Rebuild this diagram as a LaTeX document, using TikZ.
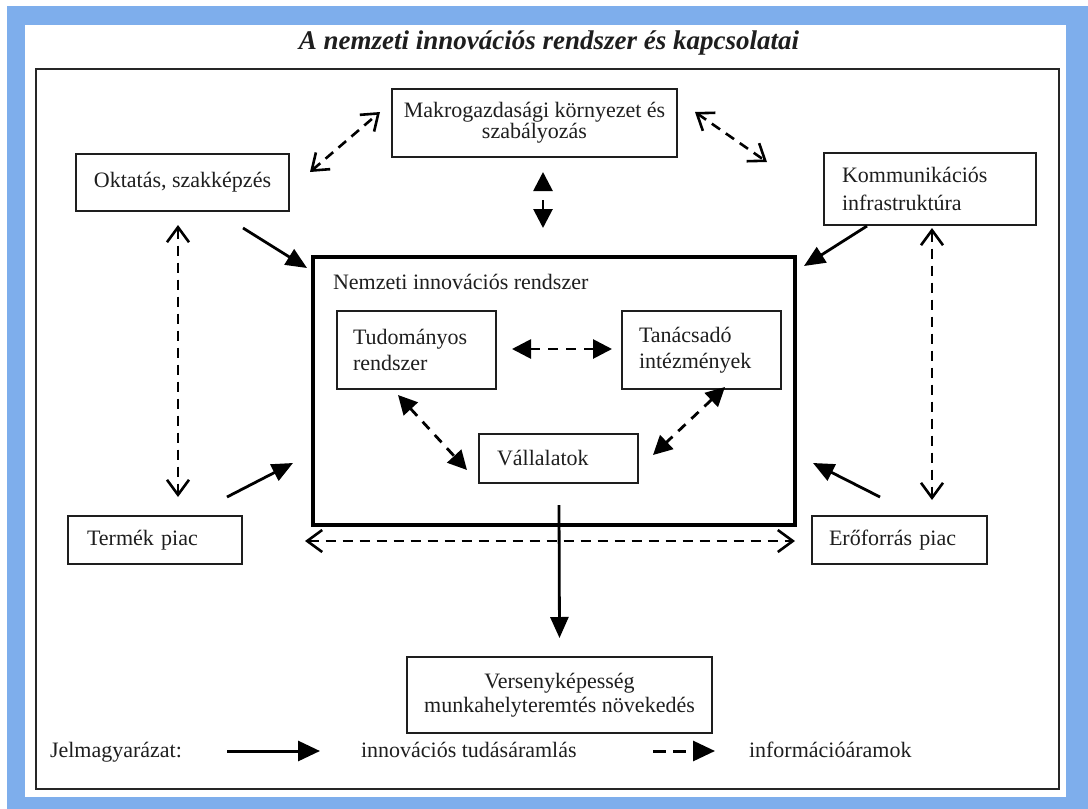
\documentclass[tikz,border=0pt]{standalone}
\usepackage{fontspec}
\setmainfont{Liberation Serif}
\usetikzlibrary{arrows.meta,calc}
\definecolor{band}{RGB}{126,174,236}
\definecolor{txt}{RGB}{30,30,30}
\begin{document}
\begin{tikzpicture}[x=1pt,y=-1pt,
  box/.style={draw=txt,line width=1.4pt,inner sep=0pt,outer sep=0pt,text=txt,font=\fontsize{22}{26}\selectfont},
  lbl/.style={inner sep=0pt,outer sep=0pt,text=txt,font=\fontsize{22}{26}\selectfont},
  solidarr/.style={line width=2.8pt,-{Triangle[length=21pt,width=18pt]}},
  infoarr/.style={line width=2.8pt,dash pattern=on 10pt off 8pt,{Triangle[length=19pt,width=19pt]}-{Triangle[length=19pt,width=19pt]}},
  openarr/.style={line width=2.6pt,dash pattern=on 10pt off 7pt,{Straight Barb[length=15pt,width=22pt]}-{Straight Barb[length=15pt,width=22pt]}}
]
% background and frame
\fill[white] (0,0) rectangle (1088,809);
\fill[band] (7,6) rectangle (1088,809);
\fill[white] (25,25) rectangle (1066,797);
\draw[line width=1.6pt,black!85] (36,69) rectangle (1059,789);
\useasboundingbox (0,0) rectangle (1088,809);

% title
\node[lbl,font=\fontsize{27}{30}\selectfont\bfseries\itshape] (title) at (549,43) {A nemzeti innovációs rendszer és kapcsolatai};

% outer boxes
\node[box,align=center,minimum width=285pt,minimum height=68pt,font=\fontsize{22}{20}\selectfont] (makro) at (534.5,123) {Makrogazdasági környezet és\\szabályozás};
\node[box,minimum width=213pt,minimum height=57pt] (oktatas) at (182.5,182.5) {Oktatás, szakképzés};
\node[box,align=left,text width=176pt,inner xsep=18pt,minimum height=72pt,font=\fontsize{22}{28}\selectfont] (komm) at (930,189) {Kommunikációs\\infrastruktúra};
\node[box,align=left,text width=136pt,inner xsep=19pt,minimum height=48pt] (termek) at (155,540) {Termék piac};
\node[box,align=left,text width=141pt,inner xsep=17pt,minimum height=48pt] (ero) at (899.5,540) {Erőforrás piac};
\node[box,align=center,minimum width=305pt,minimum height=76pt,font=\fontsize{22}{24}\selectfont] (verseny) at (559.5,695) {Versenyképesség\\munkahelyteremtés növekedés};

% national innovation system
\node[draw=black,line width=4pt,inner sep=0pt,outer sep=0pt,minimum width=482pt,minimum height=268pt] (nir) at (554,391) {};
\node[lbl,anchor=base west] (nirlabel) at (333,289) {Nemzeti innovációs rendszer};
\node[box,align=left,text width=127pt,inner xsep=16pt,minimum height=78pt] (tud) at (416.5,350) {Tudományos\\rendszer};
\node[box,align=left,text width=125pt,inner xsep=17pt,minimum height=78pt] (tan) at (701.5,350) {Tanácsadó\\intézmények};
\node[box,align=left,text width=123pt,inner xsep=18pt,minimum height=49pt] (vall) at (558.5,458.5) {Vállalatok};

% solid arrows (innovation knowledge flow)
\draw[solidarr] ($(oktatas.south east)+(-46,17)$) -- ($(nir.north west)+(-6,11)$);
\draw[solidarr] ($(komm.south west)+(43,1)$) -- ($(nir.north east)+(9,9)$);
\draw[solidarr] ($(termek.north east)+(-15,-19)$) -- ($(nir.south west)+(-20,-62)$);
\draw[solidarr] ($(ero.north west)+(68,-19)$) -- ($(nir.south east)+(18,-62)$);
\draw[solidarr] ($(vall.south)+(0.5,22)$) -- ($(verseny.north)+(0,-19)$);

% dashed arrows with filled heads
\draw[infoarr] ($(tud.east)+(16,-1)$) -- ($(tan.west)+(-10,-1)$);
\draw[infoarr] ($(tud.south)+(-18.5,6)$) -- ($(vall.west)+(-12,11.5)$);
\draw[infoarr] ($(tan.south)+(23.5,-2)$) -- ($(vall.east)+(15,-3.5)$);
\draw[infoarr,dash pattern=on 0pt off 10pt on 16pt off 30pt] ($(makro.south)+(8.5,15)$) -- ($(nir.north)+(-11,-29)$);

% dashed arrows with open heads
\draw[openarr] ($(oktatas.north east)+(21,18)$) -- ($(makro.west)+(-12,-11)$);
\draw[openarr] ($(makro.east)+(18,-11)$) -- ($(komm.north west)+(-57,9)$);
\draw[openarr] ($(oktatas.south)+(-4.5,14)$) -- ($(termek.north)+(23,-19)$);
\draw[openarr] ($(komm.south)+(2,3)$) -- ($(ero.north)+(32.5,-16)$);
\draw[openarr] ($(termek.east)+(63,1)$) -- ($(ero.west)+(-17,1)$);

% legend
\node[lbl,anchor=base west] (jel) at (50,757) {Jelmagyarázat:};
\node[lbl,anchor=base west] (innov) at (361,757) {innovációs tudásáramlás};
\node[lbl,anchor=base west] (info) at (749,757) {információáramok};
\coordinate (ls1) at (227,751);
\coordinate (ls2) at (320,751);
\coordinate (ld1) at (653,751);
\coordinate (ld2) at (715,751);
\draw[line width=3pt,-{Triangle[length=22pt,width=20pt]}] (ls1) -- (ls2);
\draw[line width=3pt,dash pattern=on 13pt off 7pt,-{Triangle[length=22pt,width=20pt]}] (ld1) -- (ld2);
\end{tikzpicture}
\end{document}
